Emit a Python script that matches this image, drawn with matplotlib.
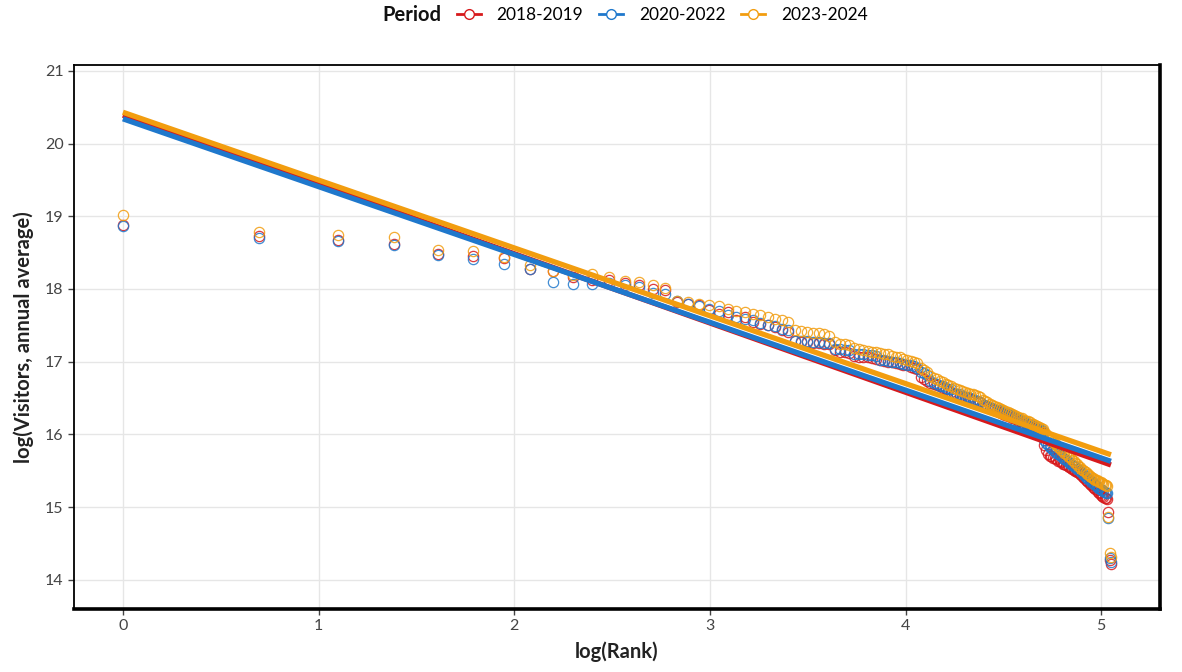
import numpy as np
import matplotlib
matplotlib.use("Agg")
import matplotlib.pyplot as plt
from matplotlib.lines import Line2D

plt.rcParams['font.family'] = ['Lato', 'DejaVu Sans']

periods = ["2018-2019", "2020-2022", "2023-2024"]
colors = ["#D7191C", "#1F78CC", "#F29D0F"]

ranks = list(range(1, 157))

visitors_2018_2019 = [
    18.88, 18.73, 18.68, 18.62, 18.48, 18.46, 18.42, 18.28, 18.25, 18.17,
    18.13, 18.12, 18.08, 18.06, 18.00, 17.99, 17.82, 17.80, 17.78, 17.71,
    17.66, 17.68, 17.57, 17.61, 17.55, 17.52, 17.50, 17.48, 17.43, 17.41,
    17.29, 17.27, 17.27, 17.26, 17.26, 17.25, 17.24, 17.16, 17.14, 17.13,
    17.12, 17.08, 17.07, 17.06, 17.06, 17.05, 17.04, 17.02, 17.01, 17.00,
    16.99, 16.98, 16.97, 16.96, 16.95, 16.93, 16.91, 16.90, 16.79, 16.76,
    16.74, 16.71, 16.69, 16.68, 16.66, 16.64, 16.62, 16.60, 16.58, 16.56,
    16.54, 16.53, 16.52, 16.51, 16.50, 16.49, 16.47, 16.46, 16.45, 16.44,
    16.41, 16.39, 16.38, 16.36, 16.35, 16.33, 16.32, 16.31, 16.30, 16.28,
    16.27, 16.26, 16.25, 16.23, 16.22, 16.21, 16.19, 16.18, 16.16, 16.15,
    16.14, 16.13, 16.12, 16.11, 16.09, 16.08, 16.07, 16.05, 16.04, 16.02,
    15.86, 15.79, 15.73, 15.71, 15.70, 15.68, 15.67, 15.66, 15.64, 15.63,
    15.62, 15.60, 15.59, 15.58, 15.57, 15.55, 15.54, 15.53, 15.51, 15.50,
    15.49, 15.48, 15.46, 15.44, 15.42, 15.40, 15.38, 15.36, 15.34, 15.32,
    15.30, 15.28, 15.27, 15.25, 15.23, 15.21, 15.19, 15.17, 15.15, 15.14,
    15.13, 15.12, 15.11, 14.93, 14.28, 14.22,
]

visitors_2020_2022 = [
    18.87, 18.70, 18.66, 18.61, 18.47, 18.41, 18.34, 18.27, 18.09, 18.07,
    18.07, 18.08, 18.06, 18.03, 17.94, 17.93, 17.83, 17.79, 17.76, 17.72,
    17.70, 17.64, 17.61, 17.59, 17.58, 17.53, 17.51, 17.49, 17.45, 17.43,
    17.29, 17.28, 17.28, 17.27, 17.27, 17.26, 17.26, 17.18, 17.17, 17.16,
    17.16, 17.11, 17.10, 17.10, 17.09, 17.09, 17.08, 17.03, 17.02, 17.01,
    17.00, 16.99, 16.98, 16.97, 16.96, 16.95, 16.94, 16.92, 16.86, 16.84,
    16.82, 16.73, 16.71, 16.69, 16.67, 16.66, 16.64, 16.63, 16.62, 16.57,
    16.56, 16.55, 16.53, 16.52, 16.51, 16.50, 16.48, 16.47, 16.46, 16.45,
    16.41, 16.40, 16.39, 16.38, 16.37, 16.35, 16.34, 16.33, 16.32, 16.30,
    16.29, 16.28, 16.27, 16.25, 16.24, 16.23, 16.22, 16.20, 16.19, 16.18,
    16.16, 16.15, 16.14, 16.12, 16.11, 16.10, 16.08, 16.07, 16.06, 16.05,
    15.92, 15.88, 15.85, 15.83, 15.81, 15.79, 15.77, 15.75, 15.73, 15.72,
    15.70, 15.68, 15.66, 15.65, 15.63, 15.61, 15.60, 15.58, 15.56, 15.55,
    15.53, 15.52, 15.50, 15.48, 15.46, 15.44, 15.42, 15.40, 15.39, 15.37,
    15.35, 15.34, 15.32, 15.30, 15.29, 15.27, 15.26, 15.24, 15.23, 15.22,
    15.21, 15.20, 15.19, 14.85, 14.30, 14.24,
]

visitors_2023_2024 = [
    19.02, 18.78, 18.74, 18.71, 18.53, 18.52, 18.44, 18.33, 18.25, 18.19,
    18.21, 18.16, 18.11, 18.10, 18.05, 18.02, 17.83, 17.82, 17.80, 17.78,
    17.77, 17.73, 17.70, 17.69, 17.66, 17.64, 17.61, 17.59, 17.57, 17.55,
    17.43, 17.42, 17.41, 17.40, 17.39, 17.38, 17.36, 17.27, 17.25, 17.24,
    17.23, 17.19, 17.17, 17.16, 17.15, 17.14, 17.13, 17.12, 17.11, 17.10,
    17.08, 17.07, 17.06, 17.04, 17.03, 17.01, 17.00, 16.98, 16.92, 16.88,
    16.86, 16.81, 16.78, 16.76, 16.74, 16.72, 16.70, 16.68, 16.66, 16.64,
    16.63, 16.61, 16.60, 16.58, 16.57, 16.56, 16.55, 16.54, 16.53, 16.51,
    16.48, 16.46, 16.44, 16.42, 16.41, 16.39, 16.38, 16.36, 16.35, 16.33,
    16.32, 16.31, 16.29, 16.28, 16.27, 16.25, 16.24, 16.23, 16.22, 16.20,
    16.19, 16.18, 16.17, 16.15, 16.14, 16.13, 16.12, 16.10, 16.09, 16.07,
    16.03, 16.00, 15.97, 15.95, 15.92, 15.90, 15.88, 15.85, 15.83, 15.81,
    15.79, 15.77, 15.75, 15.73, 15.71, 15.69, 15.67, 15.65, 15.63, 15.61,
    15.59, 15.57, 15.55, 15.53, 15.51, 15.50, 15.48, 15.46, 15.45, 15.43,
    15.42, 15.40, 15.39, 15.38, 15.37, 15.36, 15.35, 15.34, 15.33, 15.32,
    15.31, 15.30, 15.29, 14.87, 14.37, 14.32,
]

# fitted line parameters (intercept, slope) per period
fit_intercepts = [20.39, 20.34, 20.43]
fit_slopes = [-0.9525, -0.9327, -0.9327]

x_ticks = [0, 1, 2, 3, 4, 5]
y_ticks = [14, 15, 16, 17, 18, 19, 20, 21]

series = [visitors_2018_2019, visitors_2020_2022, visitors_2023_2024]

fig = plt.figure(figsize=(11.82, 6.72), dpi=100)
ax = fig.add_axes([0.0626, 0.0938, 0.9187, 0.8095])

logr = np.log(np.array(ranks, dtype=float))

for vals, col in zip(series, colors):
    ax.plot(logr, vals, linestyle='none', marker='o', markersize=7.4,
            markerfacecolor='none', markeredgecolor=col, markeredgewidth=0.9,
            alpha=0.85, zorder=3)

xf = np.linspace(0, logr.max(), 400)
for b0, b1, col in zip(fit_intercepts, fit_slopes, colors):
    ax.plot(xf, b0 + b1 * xf, color=col, linewidth=3.8, solid_capstyle='butt', zorder=4)

ax.set_xlim(-0.25, 5.30)
ax.set_ylim(13.6, 21.08)
ax.set_xticks(x_ticks)
ax.set_yticks(y_ticks)
ax.grid(True, color='#e6e6e6', linewidth=1.0)
ax.set_axisbelow(True)
ax.tick_params(axis='both', labelsize=11.5, colors='#444444', length=4, width=1.0)
for lab in ax.get_xticklabels() + ax.get_yticklabels():
    lab.set_color('#444444')

for side in ['left', 'top']:
    ax.spines[side].set_linewidth(1.3)
    ax.spines[side].set_color('black')
for side in ['right', 'bottom']:
    ax.spines[side].set_linewidth(2.6)
    ax.spines[side].set_color('black')

ax.set_xlabel('log(Rank)', fontsize=14.5, fontweight='bold', color='#222222', labelpad=6)
ax.set_ylabel('log(Visitors, annual average)', fontsize=14.5, fontweight='bold', color='#222222', labelpad=8)

handles = [Line2D([0], [0], color=c, linewidth=2, marker='o', markersize=7,
                  markerfacecolor='white', markeredgecolor=c, markeredgewidth=1.0)
           for c in colors]
fig.legend(handles, periods, loc='center left', bbox_to_anchor=(441 / 1182, 1 - 15 / 672),
           ncol=3, frameon=False, fontsize=12.5, handlelength=1.4, handletextpad=0.9,
           columnspacing=0.9)
fig.text(441 / 1182, 1 - 15 / 672, 'Period', ha='right', va='center',
         fontsize=14.5, fontweight='bold', color='#111111')

fig.savefig('out.png', dpi=100)
